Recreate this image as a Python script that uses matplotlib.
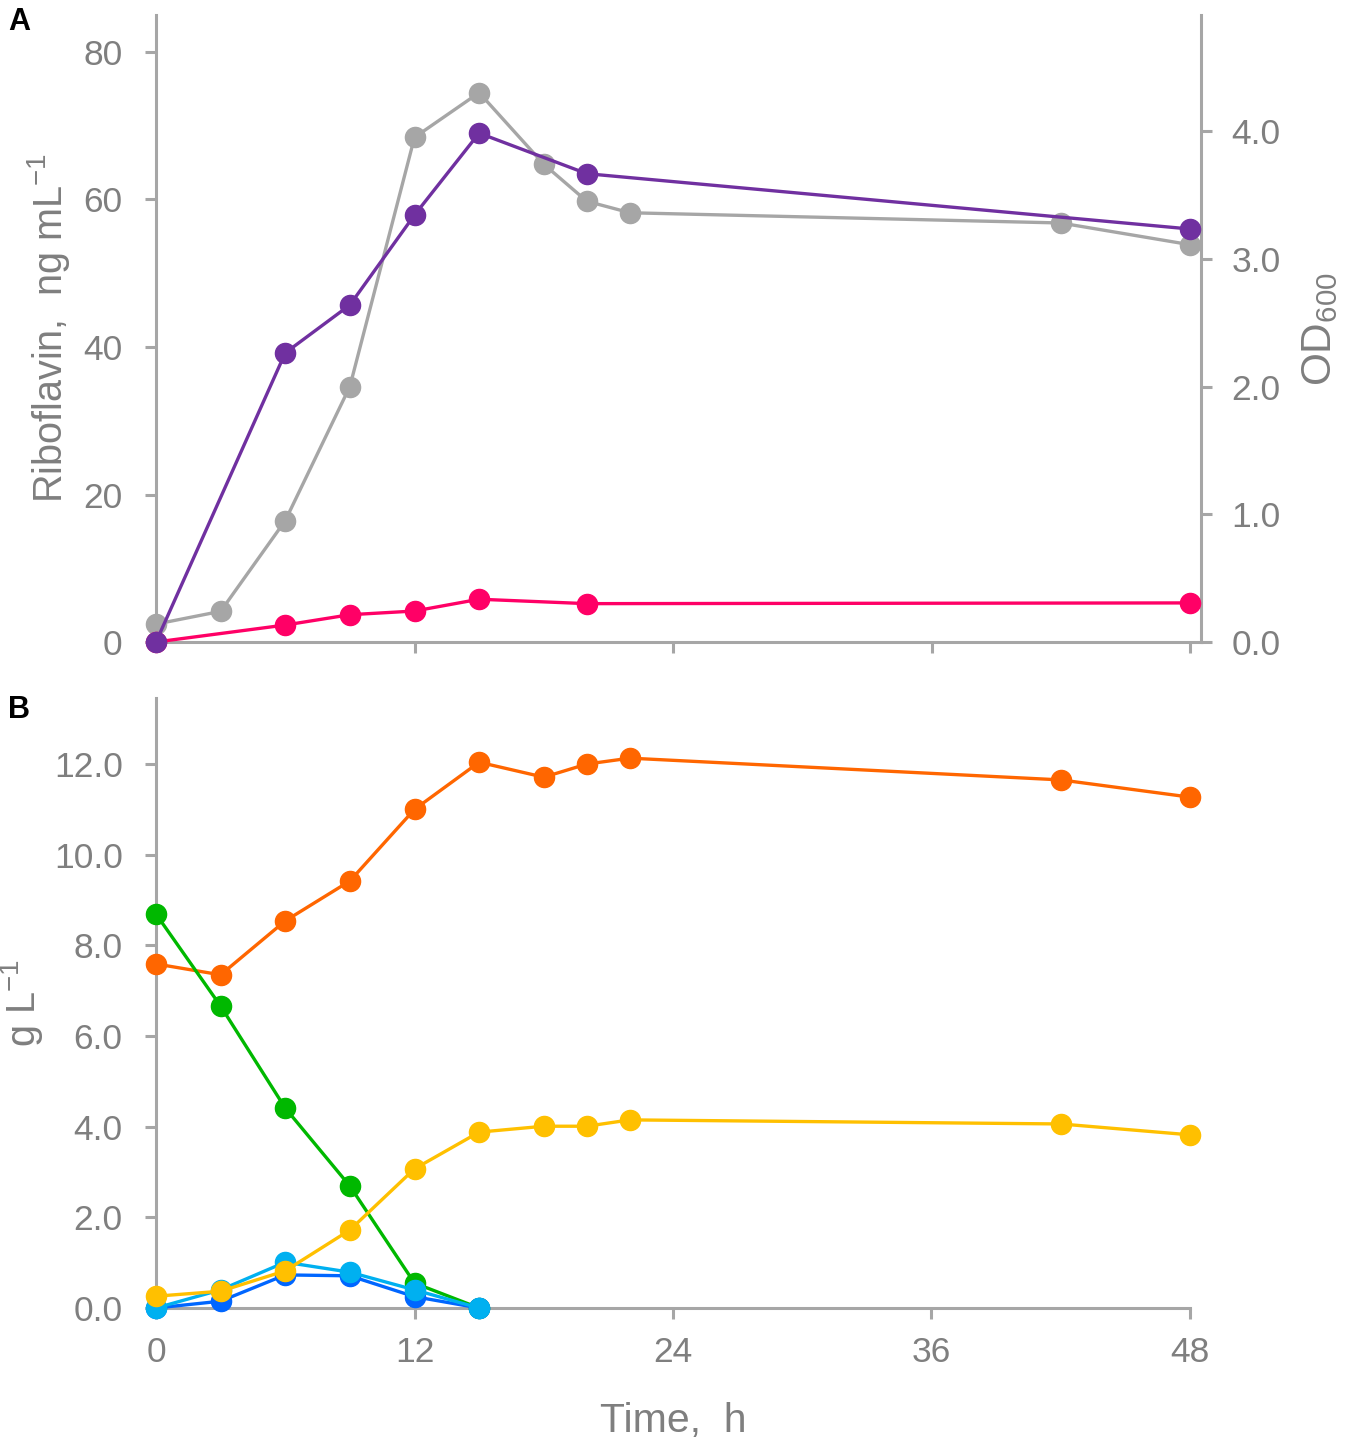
import matplotlib
matplotlib.use("Agg")
import matplotlib.pyplot as plt

plt.rcParams['font.family'] = ['Liberation Sans', 'DejaVu Sans']

# ---- Data ----
t_ribo = [0, 6, 9, 12, 15, 20, 48]
riboflavin_purple = [0.0, 39.2, 45.7, 57.9, 69.0, 63.5, 56.0]
riboflavin_pink = [0.0, 2.3, 3.7, 4.2, 5.8, 5.2, 5.3]

t_od = [0, 3, 6, 9, 12, 15, 18, 20, 22, 42, 48]
od600 = [0.14, 0.24, 0.95, 2.0, 3.95, 4.30, 3.74, 3.45, 3.36, 3.28, 3.11]

t_b = [0, 3, 6, 9, 12, 15, 18, 20, 22, 42, 48]
orange_vals = [7.59, 7.35, 8.54, 9.42, 11.0, 12.04, 11.71, 12.0, 12.13, 11.65, 11.27]
yellow_vals = [0.26, 0.37, 0.82, 1.72, 3.07, 3.88, 4.01, 4.01, 4.15, 4.06, 3.82]

t_sugar = [0, 3, 6, 9, 12, 15]
green_vals = [8.69, 6.66, 4.41, 2.69, 0.55, 0.0]
lightblue_vals = [0.0, 0.40, 1.01, 0.79, 0.40, 0.0]
darkblue_vals = [0.0, 0.15, 0.73, 0.71, 0.25, 0.0]

xticks = [0, 12, 24, 36, 48]
yticks_a = [0, 20, 40, 60, 80]
yticks_a2 = [0.0, 1.0, 2.0, 3.0, 4.0]
yticks_b = [0.0, 2.0, 4.0, 6.0, 8.0, 10.0, 12.0]

# ---- Style ----
GRAY = '#A6A6A6'
TXT = '#7F7F7F'
LW = 2.4
MS = 14.5
TICKFS = 25.5
LABFS = 28.5

W, H = 1350, 1440
fig = plt.figure(figsize=(W / 100, H / 100), dpi=100)

x0 = 156 / W
px_per_h = (1190 - 156) / 48.0

# Panel A
a_right = 1201
axA = fig.add_axes([x0, 1 - 642 / H, (a_right - 156) / W, (642 - 15) / H])
axA.set_xlim(0, (a_right - 156) / px_per_h)
axA.set_ylim(0, (642 - 15) / 7.375)
axA2 = axA.twinx()
axA2.set_ylim(0, (642 - 15) / 127.75)

# Panel B
axB = fig.add_axes([x0, 1 - 1308 / H, (1190 - 156) / W, (1308 - 698) / H])
axB.set_xlim(0, 48)
axB.set_ylim(0, (1308 - 698) / 45.33)


def style(ax):
    ax.spines['top'].set_visible(False)
    for s in ['left', 'right', 'bottom']:
        ax.spines[s].set_color(GRAY)
        ax.spines[s].set_linewidth(2.2)
    ax.tick_params(colors=GRAY, labelcolor=TXT, labelsize=TICKFS,
                   width=2.2, length=8, direction='out')


style(axA)
axA.spines['right'].set_visible(False)
style(axA2)
axA2.spines['left'].set_visible(False)
axA2.spines['bottom'].set_visible(False)
style(axB)
axB.spines['right'].set_visible(False)

axA.set_xticks(xticks[1:])
axA.set_xticklabels([])
axA.set_yticks(yticks_a)
axA.set_yticklabels([str(v) for v in yticks_a])
axA.tick_params(axis='y', pad=16)
axA2.set_yticks(yticks_a2)
axA2.set_yticklabels([f'{v:.1f}' for v in yticks_a2])
axA2.tick_params(axis='y', pad=14)

axB.set_xticks(xticks)
axB.set_xticklabels([str(v) for v in xticks])
axB.set_yticks(yticks_b)
axB.set_yticklabels([f'{v:.1f}' for v in yticks_b])
axB.tick_params(axis='y', pad=16)
axB.tick_params(axis='x', pad=12)

# Plot A
axA2.plot(t_od, od600, '-o', color=GRAY, lw=LW, ms=MS, clip_on=False, zorder=3)
axA2.plot(t_ribo, riboflavin_purple, '-o', color='#7030A0', lw=LW, ms=MS,
          clip_on=False, zorder=4, transform=axA.transData)
axA2.plot(t_ribo, riboflavin_pink, '-o', color='#FF0066', lw=LW, ms=MS,
          clip_on=False, zorder=3.5, transform=axA.transData)

axA.set_ylabel('Riboflavin,  ng mL$^{\\mathregular{-1}}$', color=TXT,
               fontsize=LABFS, labelpad=8)
axA2.set_ylabel('OD$_{\\mathregular{600}}$', color=TXT, fontsize=LABFS + 2, labelpad=14)

# Plot B
axB.plot(t_b, orange_vals, '-o', color='#FF6600', lw=LW, ms=MS, clip_on=False, zorder=3)
axB.plot(t_sugar, green_vals, '-o', color='#00B800', lw=LW, ms=MS, clip_on=False, zorder=3)
axB.plot(t_sugar, darkblue_vals, '-o', color='#0066FF', lw=LW, ms=MS, clip_on=False, zorder=3)
axB.plot(t_sugar, lightblue_vals, '-o', color='#00B0F0', lw=LW, ms=MS, clip_on=False, zorder=3.2)
axB.plot(t_b, yellow_vals, '-o', color='#FFC000', lw=LW, ms=MS, clip_on=False, zorder=3.4)

axB.set_ylabel('g L$^{\\mathregular{-1}}$', color=TXT, fontsize=LABFS, labelpad=6)
axB.set_xlabel('Time,  h', color=TXT, fontsize=LABFS + 1, labelpad=24)

fig.text(8 / W, 1 - 30 / H, 'A', fontsize=22, fontweight='bold', color='black')
fig.text(8 / W, 1 - 718 / H, 'B', fontsize=22, fontweight='bold', color='black')

fig.savefig('out.png', dpi=100)
